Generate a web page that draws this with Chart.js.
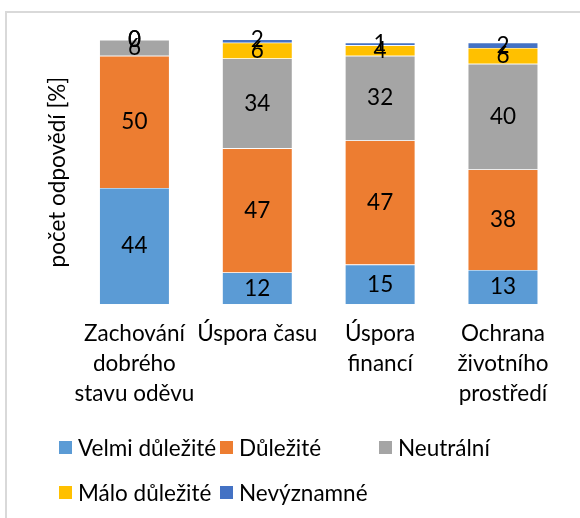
<!DOCTYPE html>
<html>
<head>
<meta charset="utf-8">
<script src="https://cdn.jsdelivr.net/npm/chart.js@4/dist/chart.umd.min.js"></script>
<style>
  html, body { margin: 0; padding: 0; background: #fff; }
  #wrap { position: relative; width: 580px; height: 518px; overflow: hidden; background: #fff; }
  #frame { position: absolute; left: 5px; top: 11px; width: 640px; height: 600px;
           border-left: 2px solid #d9d9d9; border-top: 2px solid #d9d9d9; box-sizing: border-box; }
  canvas { position: absolute; left: 0; top: 0; }
</style>
</head>
<body>
<div id="wrap">
  <div id="frame"></div>
  <canvas id="c" width="580" height="518"></canvas>
</div>
<script>
// Categories (multi-line tick labels)
const categories = [
  ['Zachování', 'dobrého', 'stavu oděvu'],
  ['Úspora času'],
  ['Úspora', 'financí'],
  ['Ochrana', 'životního', 'prostředí']
];
// Series names
const seriesNames = ['Velmi důležité', 'Důležité', 'Neutrální', 'Málo důležité', 'Nevýznamné'];
// Series values [%]
const velmiDulezite = [44, 12, 15, 13];
const dulezite      = [50, 47, 47, 38];
const neutralni     = [6, 34, 32, 40];
const maloDulezite  = [0, 6, 4, 6];
const nevyznamne    = [0, 2, 1, 2];
const axisTitle = 'počet odpovědí [%]';

const seriesValues = [velmiDulezite, dulezite, neutralni, maloDulezite, nevyznamne];
const colors = ['#5B9BD5', '#ED7D31', '#A5A5A5', '#FFC000', '#4472C4'];

const FONT_FAMILY = 'Lato, "Open Sans", sans-serif';
const FONT_SIZE = 22.5;

// Value labels centred in each stacked segment
const segmentLabels = {
  id: 'segmentLabels',
  afterDatasetsDraw(chart) {
    const ctx = chart.ctx;
    ctx.save();
    ctx.font = `${FONT_SIZE}px ${FONT_FAMILY}`;
    ctx.fillStyle = '#000';
    ctx.textAlign = 'center';
    ctx.textBaseline = 'middle';
    chart.data.datasets.forEach((ds, i) => {
      const meta = chart.getDatasetMeta(i);
      meta.data.forEach((el, j) => {
        ctx.fillText(String(ds.data[j]), el.x, (el.y + el.base) / 2);
      });
    });
    ctx.restore();
  }
};

// Legend laid out in three columns, two rows
const gridLegend = {
  id: 'gridLegend',
  afterDraw(chart) {
    const ctx = chart.ctx;
    const colX = [59, 220, 379];
    const rowY = [447.5, 492.5];
    ctx.save();
    ctx.font = `${FONT_SIZE}px ${FONT_FAMILY}`;
    ctx.textAlign = 'left';
    ctx.textBaseline = 'middle';
    chart.data.datasets.forEach((ds, i) => {
      const x = colX[i % 3];
      const y = rowY[Math.floor(i / 3)];
      ctx.fillStyle = ds.backgroundColor;
      ctx.fillRect(x, y - 6.5, 13, 13);
      ctx.fillStyle = '#000';
      ctx.fillText(ds.label, x + 19, y + 1);
    });
    ctx.restore();
  }
};

new Chart(document.getElementById('c'), {
  type: 'bar',
  data: {
    labels: categories,
    datasets: seriesNames.map((name, i) => ({
      label: name,
      data: seriesValues[i],
      backgroundColor: colors[i],
      borderColor: 'rgba(255,255,255,0.7)',
      borderWidth: 0.6,
      categoryPercentage: 1,
      barPercentage: 1 / 1.75
    }))
  },
  options: {
    responsive: false,
    devicePixelRatio: 1,
    animation: false,
    layout: { padding: { left: 35, right: 15.6, top: 40, bottom: 94 } },
    plugins: {
      legend: { display: false },
      tooltip: { enabled: false },
      title: { display: false }
    },
    scales: {
      x: {
        stacked: true,
        grid: { display: false, drawTicks: false },
        border: { display: false },
        ticks: {
          color: '#000',
          font: { family: FONT_FAMILY, size: FONT_SIZE, lineHeight: 1.33 },
          padding: 15,
          maxRotation: 0,
          minRotation: 0,
          autoSkip: false
        }
      },
      y: {
        stacked: true,
        min: 0,
        max: 100,
        grid: { display: false, drawTicks: false },
        border: { display: false },
        ticks: { display: false },
        title: {
          display: true,
          text: axisTitle,
          color: '#000',
          font: { family: FONT_FAMILY, size: FONT_SIZE, lineHeight: 1.2 },
          padding: { top: 9, bottom: 2 }
        }
      }
    }
  },
  plugins: [segmentLabels, gridLegend]
});
</script>
</body>
</html>
